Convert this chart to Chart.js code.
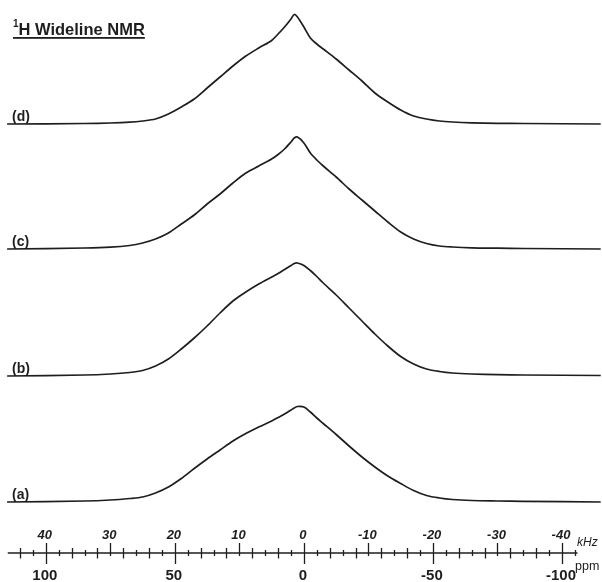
<!DOCTYPE html>
<html>
<head>
<meta charset="utf-8">
<script src="https://cdn.jsdelivr.net/npm/chart.js@4.4.1/dist/chart.umd.min.js"></script>
<style>
  html, body { margin: 0; padding: 0; background: #fff; }
  #wrap { width: 602px; height: 582px; position: relative; }
</style>
</head>
<body>
<div id="wrap"><canvas id="nmr"></canvas></div>
<script>
// frequency grid, kHz
const kHzGrid = [46, 34, 30, 27, 25, 23, 21, 19, 17, 15, 13, 11, 9, 7, 5, 4, 3, 2, 1.5, 1, 0,
  -1, -2, -3, -5, -7, -9, -11, -13, -15, -17, -19, -21, -23, -26, -30, -34, -46];

// intensities (arbitrary units)
const specA = [0, 1, 2, 3.5, 5, 9, 15, 23.5, 33.5, 43, 52, 61, 68.5, 75, 81, 84.5, 88, 92, 94, 95.5, 95,
  90, 84, 78.5, 67.5, 56, 45, 35, 26, 18.5, 11.5, 6.5, 4, 2.5, 1.5, 1, 0.6, 0];
const specB = [0, 1, 2, 3.5, 5.5, 10, 17, 27, 38, 50, 63, 75, 84, 92, 99, 102.5, 106.5, 110.5, 112.5, 113, 110.5,
  105.5, 99.5, 93, 81, 68, 55, 42, 30, 19.5, 12, 7, 4.5, 3, 2, 1.3, 1, 0.5];
const specC = [0, 1, 1.8, 3.5, 6, 10, 16, 25, 34, 45, 55, 66, 76, 83, 90, 94.5, 100, 107, 111, 112, 106,
  96, 89, 83, 72, 60, 49, 38, 27, 17, 10, 5.5, 3, 2, 1.2, 0.8, 0.5, 0];
const specD = [0, 0.5, 1, 1.8, 3, 5, 10, 17, 25, 36, 47, 58, 68, 76, 83.5, 90, 97, 105, 109.5, 107, 97,
  86, 80, 75, 65, 54, 43, 31, 22, 14, 8, 5, 3, 2, 1.2, 0.7, 0.5, 0];

const traceLabels = ["(a)", "(b)", "(c)", "(d)"];
const kHzTicks = [40, 30, 20, 10, 0, -10, -20, -30, -40];
const ppmTicks = [100, 50, 0, -50, -100];

// vertical stacking of the traces
const traceOffsets = [80, 206, 333, 458];
const FONT = '"Liberation Sans", Arial, sans-serif';
const INK = "#1e1e1e";

const series = [specA, specB, specC, specD];
const datasets = series.map((vals, i) => ({
  label: traceLabels[i],
  data: kHzGrid.map((k, j) => ({ x: k, y: vals[j] + traceOffsets[i] })),
  showLine: true,
  borderColor: INK,
  borderWidth: 1.7,
  pointRadius: 0,
  tension: 0.3,
  fill: false
}));

const axisPlugin = {
  id: "nmrAxis",
  afterDraw(chart) {
    const ctx = chart.ctx;
    const xs = chart.scales.x;
    const ys = chart.scales.y;
    ctx.save();
    ctx.fillStyle = INK;
    ctx.strokeStyle = INK;

    // title with superscript and underline
    ctx.textBaseline = "alphabetic";
    ctx.textAlign = "left";
    ctx.font = "bold 10px " + FONT;
    ctx.fillText("1", 13, 27);
    ctx.font = "bold 16.5px " + FONT;
    ctx.fillText("H Wideline NMR", 18.5, 35);
    const tw = ctx.measureText("H Wideline NMR").width;
    ctx.fillRect(13, 37, tw + 5.5, 1.8);

    // trace labels
    ctx.font = "bold 14px " + FONT;
    ctx.textBaseline = "middle";
    traceLabels.forEach((t, i) => {
      ctx.fillText(t, 12, ys.getPixelForValue(traceOffsets[i] + 7));
    });

    // axis line
    const ay = 553;
    ctx.lineWidth = 1.3;
    ctx.beginPath();
    ctx.moveTo(xs.getPixelForValue(45.9), ay);
    ctx.lineTo(xs.getPixelForValue(-42.4), ay);
    ctx.stroke();

    // ticks every 2 kHz (5 ppm)
    for (let k = 44; k >= -42; k -= 2) {
      const ppm = Math.round(k * 2.5);
      let up = 3, down = 3;
      if (ppm % 10 === 0) { up = 5; down = 5.5; }
      if (k % 10 === 0) up = 10;
      if (ppm % 50 === 0) down = 11;
      const px = Math.round(xs.getPixelForValue(k)) + 0.5;
      ctx.beginPath();
      ctx.moveTo(px, ay - up);
      ctx.lineTo(px, ay + down);
      ctx.stroke();
    }

    // kHz labels
    ctx.textAlign = "center";
    ctx.font = "italic bold 13px " + FONT;
    kHzTicks.forEach(k => {
      ctx.fillText(String(k), xs.getPixelForValue(k) - 1, 535);
    });
    ctx.font = "italic 12px " + FONT;
    ctx.textAlign = "left";
    ctx.fillText("kHz", 577, 543);

    // ppm labels
    ctx.textAlign = "center";
    ctx.font = "bold 15px " + FONT;
    ppmTicks.forEach(p => {
      ctx.fillText(String(p), xs.getPixelForValue(p / 2.5) - 1, 576);
    });
    ctx.font = "12.5px " + FONT;
    ctx.textAlign = "left";
    ctx.fillText("ppm", 575, 567);
    ctx.restore();
  }
};

new Chart(document.getElementById("nmr"), {
  type: "scatter",
  data: { datasets },
  options: {
    responsive: true,
    maintainAspectRatio: false,
    animation: false,
    layout: { padding: 0 },
    plugins: { legend: { display: false }, tooltip: { enabled: false } },
    scales: {
      x: { type: "linear", min: -46.2, max: 47.1, reverse: true, display: false },
      y: { type: "linear", min: 0, max: 582, display: false }
    }
  },
  plugins: [axisPlugin]
});
</script>
</body>
</html>
